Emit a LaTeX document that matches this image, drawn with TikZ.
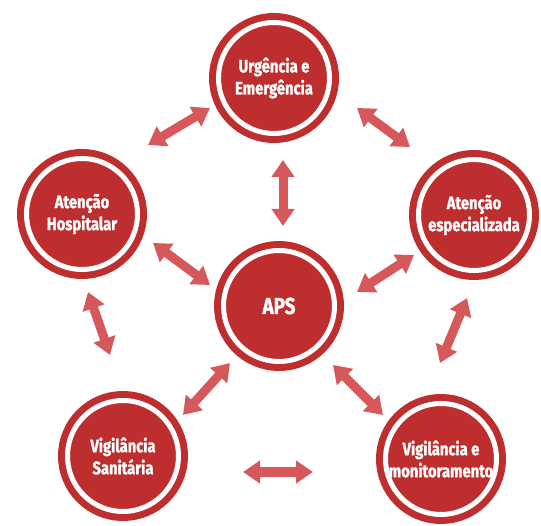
\documentclass[tikz,border=0pt]{standalone}
\usepackage{fontspec}
\newfontfamily\labfont{Fira Sans}[FakeStretch=0.82, BoldFeatures={FakeBold=1.3}]
\usetikzlibrary{arrows.meta}
\definecolor{circred}{RGB}{190,46,46}
\definecolor{arrred}{RGB}{214,88,90}
\tikzset{
  hub/.style={circle, inner sep=0pt, outer sep=0pt, minimum size=111pt,
    fill=circred, draw=white, line width=5pt,
    preaction={draw=circred, line width=19pt}},
  labtxt/.style={text=white, align=center, inner sep=0pt,
    font=\labfont\bfseries\fontsize{18}{22}\selectfont},
  apstxt/.style={labtxt, font=\labfont\bfseries\fontsize{23}{26}\selectfont},
  bigarrow/.style={draw=arrred, line width=9pt,
    {Triangle[length=17pt,width=22pt]}-{Triangle[length=17pt,width=22pt]}}
}
\begin{document}
\begin{tikzpicture}[x=1pt,y=-1pt]
\useasboundingbox (0,0) rectangle (541,526);
% circles
\node[hub, label={[labtxt]center:{Urgência e\\Emergência}}] (urg) at (274,78) {};
\node[hub, label={[apstxt]center:{APS}}] (aps) at (279,306) {};
\node[hub, label={[labtxt]center:{Atenção\\Hospitalar}}] (hosp) at (82,214) {};
\node[hub, label={[labtxt]center:{Atenção\\especializada}}] (esp) at (474,215) {};
\node[hub, label={[labtxt]center:{Vigilância\\Sanitária}}] (sanit) at (123,456) {};
\node[hub, label={[labtxt]center:{Vigilância e\\monitoramento}}] (monit) at (441,459) {};
% arrows
\draw[bigarrow] ([shift={(9,82)}]urg.center) -- ([shift={(4,-80)}]aps.center);
\draw[bigarrow] ([shift={(-64,30)}]urg.center) -- ([shift={(66,-69)}]hosp.center);
\draw[bigarrow] ([shift={(83,30)}]urg.center) -- ([shift={(-64,-68)}]esp.center);
\draw[bigarrow] ([shift={(71,29)}]hosp.center) -- ([shift={(-69,-21)}]aps.center);
\draw[bigarrow] ([shift={(78,-14)}]aps.center) -- ([shift={(-60,40)}]esp.center);
\draw[bigarrow] ([shift={(6,78)}]hosp.center) -- ([shift={(-13,-101)}]sanit.center);
\draw[bigarrow] ([shift={(-7,83)}]esp.center) -- ([shift={(-1,-96)}]monit.center);
\draw[bigarrow] ([shift={(-49,57)}]aps.center) -- ([shift={(60,-41)}]sanit.center);
\draw[bigarrow] ([shift={(54,59)}]aps.center) -- ([shift={(-58,-44)}]monit.center);
\draw[bigarrow] ([shift={(120,16)}]sanit.center) -- ([shift={(-128,13)}]monit.center);
\end{tikzpicture}
\end{document}
